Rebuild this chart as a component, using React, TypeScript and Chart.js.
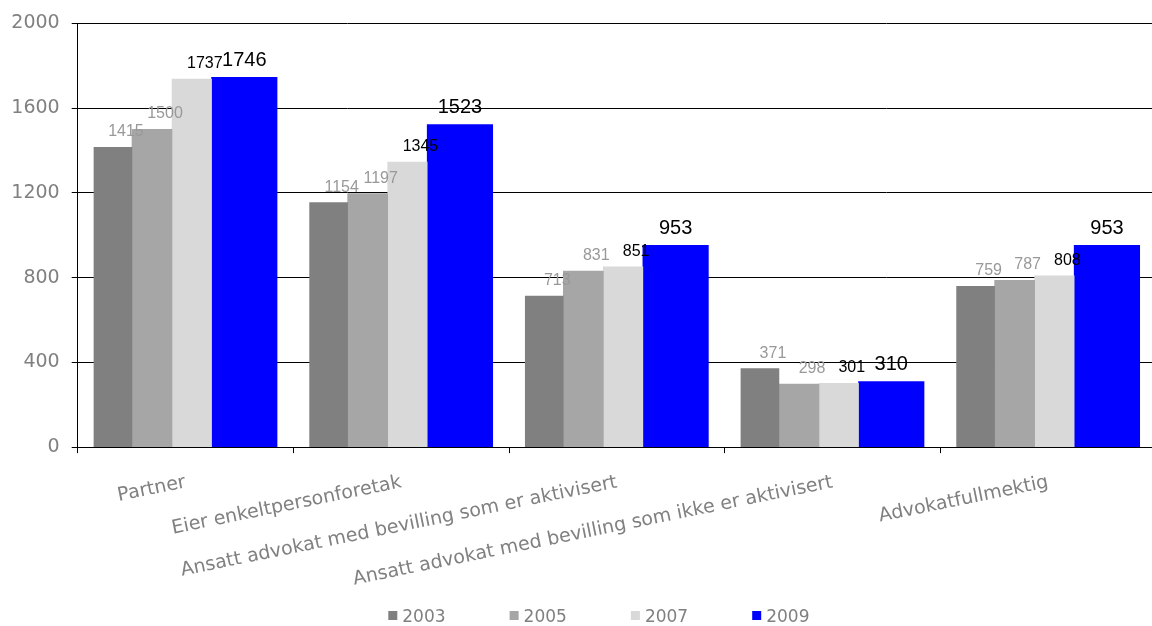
import React, { useEffect, useRef } from 'react';
import { Chart, registerables } from 'chart.js';

Chart.register(...registerables);

// ---------- data ----------
const categories = [
  'Partner',
  'Eier enkeltpersonforetak',
  'Ansatt advokat med bevilling som er aktivisert',
  'Ansatt advokat med bevilling som ikke er aktivisert',
  'Advokatfullmektig',
];
const years = ['2003', '2005', '2007', '2009'];
const values2003 = [1415, 1154, 713, 371, 759];
const values2005 = [1500, 1197, 831, 298, 787];
const values2007 = [1737, 1345, 851, 301, 808];
const values2009 = [1746, 1523, 953, 310, 953];
const yTicks = [0, 400, 800, 1200, 1600, 2000];

// ---------- style ----------
const series = [values2003, values2005, values2007, values2009];
const barColors = ['#808080', '#a6a6a6', '#d9d9d9', '#0000ff'];
const labelColors = ['#999999', '#999999', '#000000', '#000000'];
const labelFontSizes = [16, 16, 16, 20];
const labelShift = [13, 13, 13, 0];
const barOffsets = [-0.3365, -0.1555, 0.029, 0.2725]; // fraction of a category
const barThickness = [38, 40, 39.5, 65.5];
const AXIS_FONT = { family: '"DejaVu Sans", Verdana, sans-serif', size: 19 };
const GREY = '#808080';

const valueLabelPlugin = {
  id: 'valueLabels',
  afterDatasetsDraw(chart: any) {
    const ctx = chart.ctx;
    ctx.save();
    ctx.textAlign = 'center';
    ctx.textBaseline = 'alphabetic';
    chart.data.datasets.forEach((_ds: any, d: number) => {
      const meta = chart.getDatasetMeta(d);
      ctx.font = `${labelFontSizes[d]}px "Liberation Sans", Arial, sans-serif`;
      ctx.fillStyle = labelColors[d];
      meta.data.forEach((el: any, i: number) => {
        ctx.fillText(String(series[d][i]), el.x + labelShift[d], el.y - 11);
      });
    });
    ctx.restore();
  },
};

const LEGEND_LEFT = 388.3;
const LEGEND_STEP = 121.3;
const legendPlugin = {
  id: 'bottomLegend',
  afterDraw(chart: any) {
    const ctx = chart.ctx;
    ctx.save();
    ctx.font = '17px "DejaVu Sans", Verdana, sans-serif';
    ctx.textBaseline = 'alphabetic';
    ctx.textAlign = 'left';
    chart.data.datasets.forEach((ds: any, i: number) => {
      const x0 = LEGEND_LEFT + i * LEGEND_STEP;
      ctx.fillStyle = ds.backgroundColor;
      ctx.fillRect(x0, 611, 9, 9);
      ctx.fillStyle = GREY;
      ctx.fillText(ds.label, x0 + 14, 622);
    });
    ctx.restore();
  },
};

export default function App() {
  const canvasRef = useRef<HTMLCanvasElement>(null);

  useEffect(() => {
    if (!canvasRef.current) return;
    const chart = new Chart(canvasRef.current, {
      type: 'bar',
      data: {
        labels: categories,
        datasets: years.map((y, d) => ({
          label: y,
          xAxisID: 'xl',
          yAxisID: 'y',
          data: series[d].map((v, i) => ({ x: i + barOffsets[d], y: v })),
          backgroundColor: barColors[d],
          borderWidth: 0,
          grouped: false,
          barThickness: barThickness[d],
        })),
      },
      options: {
        animation: false,
        responsive: true,
        maintainAspectRatio: false,
        layout: { padding: { left: 0, top: 10, right: 0, bottom: 17 } },
        plugins: {
          legend: { display: false },
          tooltip: { enabled: false },
        },
        scales: {
          x: {
            type: 'category',
            labels: categories,
            position: 'bottom',
            offset: true,
            grid: {
              offset: true,
              drawOnChartArea: false,
              drawTicks: true,
              tickLength: 6,
              color: '#000',
            },
            border: { display: true, color: '#000' },
            ticks: {
              autoSkip: false,
              minRotation: 11.5,
              maxRotation: 11.5,
              padding: 18,
              color: GREY,
              font: AXIS_FONT,
            },
          },
          xl: {
            type: 'linear',
            position: 'bottom',
            display: false,
            offset: false,
            min: -0.5,
            max: 4.5,
          },
          y: {
            type: 'linear',
            min: 0,
            max: 2000,
            afterBuildTicks: (scale: any) => {
              scale.ticks = yTicks.map((v) => ({ value: v }));
            },
            afterFit: (scale: any) => {
              scale.width = 77.7;
            },
            grid: { color: '#000', tickLength: 6 },
            border: { display: true, color: '#000' },
            ticks: {
              padding: 12,
              color: GREY,
              font: AXIS_FONT,
              callback: (v: any) => String(v),
            },
          },
        },
      } as any,
      plugins: [valueLabelPlugin, legendPlugin],
    });
    return () => chart.destroy();
  }, []);

  return (
    <div style={{ position: 'fixed', left: 0, top: 0, width: 1152, height: 626, overflow: 'hidden', background: '#fff' }}>
      <div style={{ position: 'relative', width: 1156, height: 626 }}>
        <canvas ref={canvasRef} />
      </div>
    </div>
  );
}
